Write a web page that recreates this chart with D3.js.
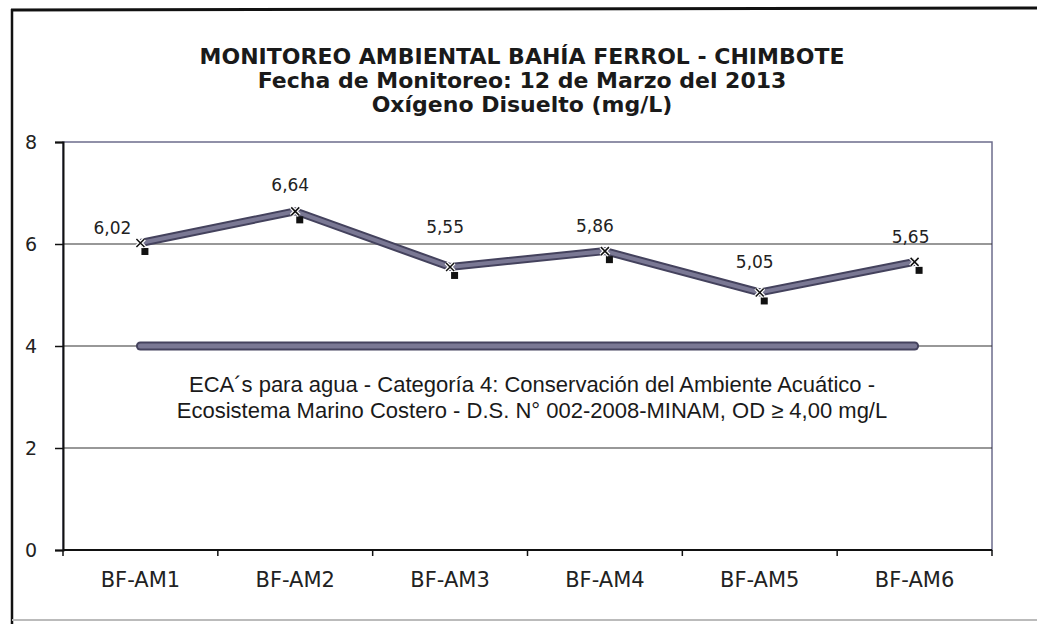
<!DOCTYPE html>
<html>
<head>
<meta charset="utf-8">
<script src="https://cdn.jsdelivr.net/npm/d3@7"></script>
<style>
  html, body { margin: 0; padding: 0; background: #ffffff; }
  svg { display: block; }
</style>
</head>
<body>
<svg id="chart" width="1037" height="624"></svg>
<script>
// ---- data ----
const categories = ["BF-AM1", "BF-AM2", "BF-AM3", "BF-AM4", "BF-AM5", "BF-AM6"];
const oxygenValues = [6.02, 6.64, 5.55, 5.86, 5.05, 5.65];
const ecaValues = [4, 4, 4, 4, 4, 4];
const yTicks = [0, 2, 4, 6, 8];
const titleLines = [
  "MONITOREO AMBIENTAL BAHÍA FERROL - CHIMBOTE",
  "Fecha de Monitoreo: 12 de Marzo del 2013",
  "Oxígeno Disuelto (mg/L)"
];
const noteLines = [
  "ECA´s para agua - Categoría 4: Conservación del Ambiente Acuático -",
  "Ecosistema Marino Costero - D.S. N° 002-2008-MINAM, OD ≥ 4,00 mg/L"
];
// label placement (pixel offsets from each point, as placed in the original)
const labelOffsets = [[-28, -9], [-5, -20], [-5, -34], [-10, -19], [-5, -24], [-4, -19]];

// ---- layout ----
const svg = d3.select("#chart");
const plot = { left: 63, right: 992, top: 142, bottom: 550 };

const x = d3.scaleBand().domain(categories).range([plot.left, plot.right]);
const y = d3.scaleLinear().domain([0, 8]).range([plot.bottom, plot.top]);
const cx = d => x(d) + x.bandwidth() / 2;

// outer frame
svg.append("line").attr("x1", 11).attr("x2", 1037).attr("y1", 10).attr("y2", 8)
  .attr("stroke", "#111").attr("stroke-width", 3);
svg.append("line").attr("x1", 12).attr("x2", 12).attr("y1", 9).attr("y2", 624)
  .attr("stroke", "#111").attr("stroke-width", 2.5);
svg.append("line").attr("x1", 12).attr("x2", 1037).attr("y1", 620).attr("y2", 620)
  .attr("stroke", "#bbbbbb").attr("stroke-width", 2);

// title
const title = svg.append("g").attr("font-family", "DejaVu Sans, Verdana, sans-serif")
  .attr("font-weight", "bold").attr("font-size", 22).attr("fill", "#1a1a1a")
  .attr("text-anchor", "middle");
titleLines.forEach((t, i) => {
  title.append("text").attr("x", 522).attr("y", 64 + i * 24).text(t);
});

// plot area
svg.append("rect").attr("x", plot.left).attr("y", plot.top)
  .attr("width", plot.right - plot.left).attr("height", plot.bottom - plot.top)
  .attr("fill", "#ffffff").attr("stroke", "#6c6c8c").attr("stroke-width", 1.5);

// gridlines
svg.append("g").selectAll("line").data(yTicks.filter(v => v > 0 && v < 8)).join("line")
  .attr("x1", plot.left).attr("x2", plot.right)
  .attr("y1", d => y(d)).attr("y2", d => y(d))
  .attr("stroke", "#333").attr("stroke-width", 1.2);

// y axis
const yAxis = svg.append("g").attr("transform", `translate(${plot.left},0)`)
  .call(d3.axisLeft(y).tickValues(yTicks).tickSize(8).tickPadding(18).tickFormat(d3.format("d")));
yAxis.select(".domain").attr("stroke", "#111").attr("stroke-width", 2);
yAxis.selectAll(".tick line").attr("stroke", "#111").attr("stroke-width", 1.5);
yAxis.selectAll(".tick text").attr("font-family", "DejaVu Sans, Verdana, sans-serif")
  .attr("font-size", 19).attr("fill", "#222");

// x axis
const boundaries = categories.map(c => x(c)).concat([plot.right]);
const xAxis = svg.append("g").attr("transform", `translate(0,${plot.bottom})`);
xAxis.append("line").attr("x1", plot.left).attr("x2", plot.right)
  .attr("stroke", "#111").attr("stroke-width", 2);
xAxis.selectAll(".tk").data(boundaries).join("line").attr("class", "tk")
  .attr("x1", d => d).attr("x2", d => d).attr("y1", 0).attr("y2", 6)
  .attr("stroke", "#111").attr("stroke-width", 1.5);
xAxis.selectAll(".lb").data(categories).join("text").attr("class", "lb")
  .attr("x", d => cx(d)).attr("y", 37).attr("text-anchor", "middle")
  .attr("font-family", "DejaVu Sans, Verdana, sans-serif").attr("font-size", 21)
  .attr("fill", "#222").text(d => d);

// ECA reference line
const line = d3.line().x((d, i) => cx(categories[i])).y(d => y(d));
svg.append("path").datum(ecaValues).attr("d", line).attr("fill", "none")
  .attr("stroke", "#45435e").attr("stroke-width", 9).attr("stroke-linecap", "round");
svg.append("path").datum(ecaValues).attr("d", line).attr("fill", "none")
  .attr("stroke", "#7a7894").attr("stroke-width", 5).attr("stroke-linecap", "round");

// note text
const note = svg.append("g").attr("font-family", "Liberation Sans, Arial, sans-serif")
  .attr("font-size", 22).attr("fill", "#1a1a1a").attr("text-anchor", "middle");
noteLines.forEach((t, i) => {
  note.append("text").attr("x", 532).attr("y", 392 + i * 26).text(t);
});

// oxygen series
svg.append("path").datum(oxygenValues).attr("d", line).attr("fill", "none")
  .attr("stroke", "#44425d").attr("stroke-width", 8);
svg.append("path").datum(oxygenValues).attr("d", line).attr("fill", "none")
  .attr("stroke", "#7a7894").attr("stroke-width", 4);

// markers: small dark square shadow + x
const pts = svg.append("g");
pts.selectAll("rect").data(oxygenValues).join("rect")
  .attr("x", (d, i) => cx(categories[i]) + 1).attr("y", d => y(d) + 5)
  .attr("width", 7).attr("height", 7).attr("fill", "#111");
const xPath = (d, i) => {
  const px = cx(categories[i]), py = y(d), s = 4;
  return `M${px - s},${py - s}L${px + s},${py + s}M${px - s},${py + s}L${px + s},${py - s}`;
};
pts.selectAll("path.xm").data(oxygenValues).join("path").attr("class", "xm")
  .attr("d", xPath).attr("stroke", "#fff").attr("stroke-width", 4);
pts.selectAll("path.xk").data(oxygenValues).join("path").attr("class", "xk")
  .attr("d", xPath).attr("stroke", "#111").attr("stroke-width", 1.5);

// value labels
const fmt = v => d3.format(".2f")(v).replace(".", ",");
svg.append("g").selectAll("text").data(oxygenValues).join("text")
  .attr("x", (d, i) => cx(categories[i]) + labelOffsets[i][0])
  .attr("y", (d, i) => y(d) + labelOffsets[i][1])
  .attr("text-anchor", "middle")
  .attr("font-family", "DejaVu Sans, Verdana, sans-serif").attr("font-size", 17)
  .attr("fill", "#222").text(d => fmt(d));
</script>
</body>
</html>
